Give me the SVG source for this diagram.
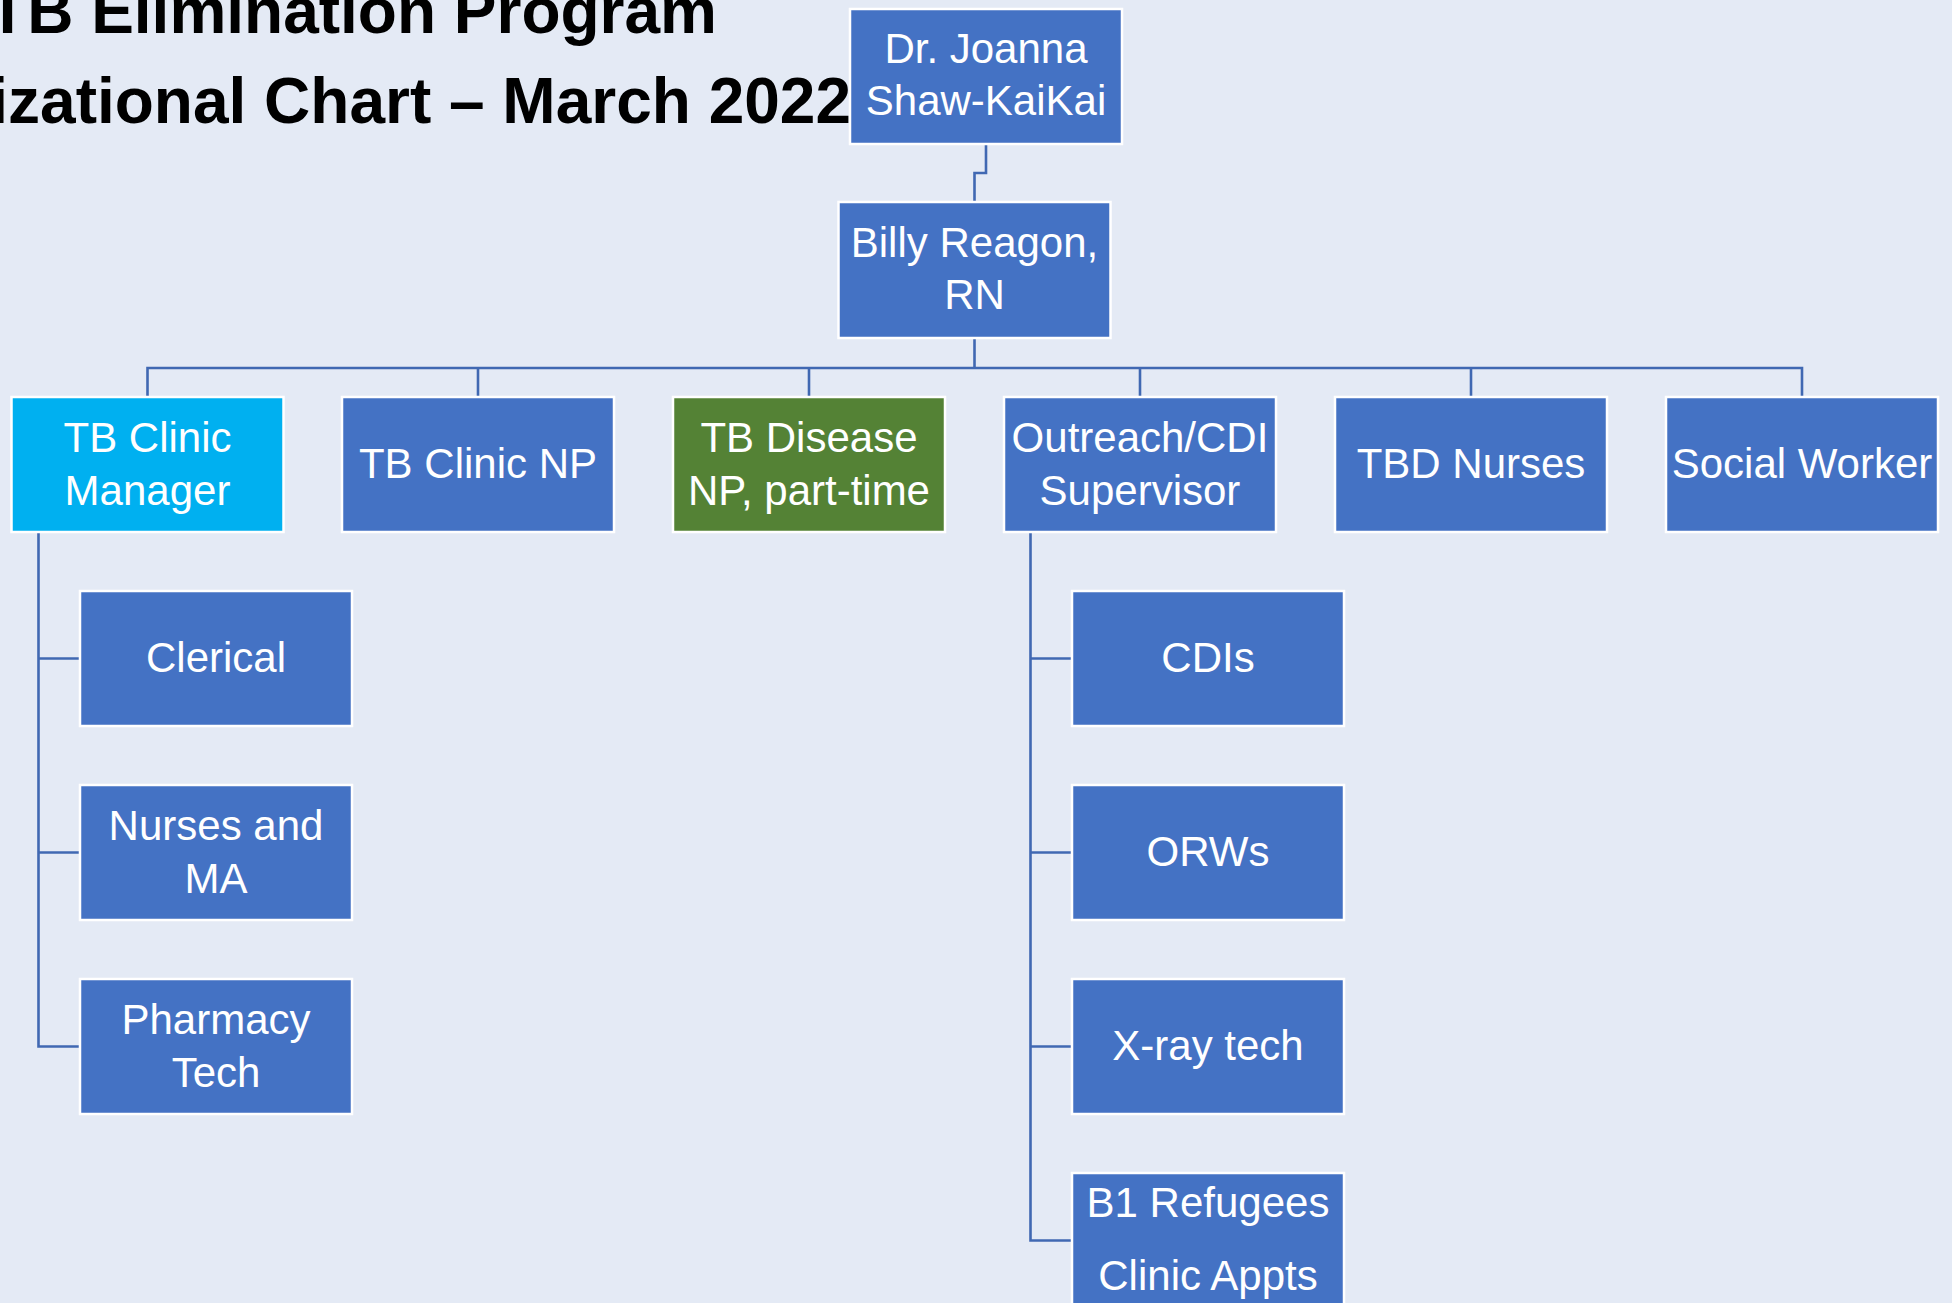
<svg xmlns="http://www.w3.org/2000/svg" width="1952" height="1303" viewBox="0 0 1952 1303">
<style>
.bg{fill:#E4EAF5}
.box{fill:#4472C4;stroke:#FFFFFF;stroke-width:2.5}
.cyan{fill:#00B0F0}
.green{fill:#548235}
.lbl{font-family:"Liberation Sans",Arial,sans-serif;font-size:42px;fill:#FFFFFF;text-anchor:middle}
.title{font-family:"Liberation Sans",Arial,sans-serif;font-weight:bold;font-size:64px;fill:#000000;text-anchor:end}
.conn{fill:none;stroke:#4068B2;stroke-width:2.6}
</style>
<rect class="bg" x="0" y="0" width="1952" height="1303"/>
<g id="title">
<text class="title" x="717" y="33">TB Elimination Program</text>
<text class="title" x="851" y="123">Organizational Chart – March 2022</text>
</g>
<g id="connectors">
<path class="conn" d="M986 144 V173 H974.5 V202"/>
<path class="conn" d="M974.5 338 V368"/>
<path class="conn" d="M147.5 397 V368 H1802 V397"/>
<path class="conn" d="M478 368 V397"/>
<path class="conn" d="M809 368 V397"/>
<path class="conn" d="M1140 368 V397"/>
<path class="conn" d="M1471 368 V397"/>
<path class="conn" d="M38.5 532 V1046.5 H80"/>
<path class="conn" d="M38.5 658.5 H80"/>
<path class="conn" d="M38.5 852.5 H80"/>
<path class="conn" d="M1030.5 532 V1240.5 H1072"/>
<path class="conn" d="M1030.5 658.5 H1072"/>
<path class="conn" d="M1030.5 852.5 H1072"/>
<path class="conn" d="M1030.5 1046.5 H1072"/>
</g>
<g id="node-joanna">
<rect class="box" x="850" y="9" width="272" height="135"/>
<text class="lbl" x="986" y="63">Dr. Joanna</text>
<text class="lbl" x="986" y="115">Shaw-KaiKai</text>
</g>
<g id="node-billy">
<rect class="box" x="838.5" y="202" width="272" height="136"/>
<text class="lbl" x="974.5" y="256.5">Billy Reagon,</text>
<text class="lbl" x="974.5" y="309">RN</text>
</g>
<g id="node-clinic-manager">
<rect class="box cyan" x="11.5" y="397" width="272" height="135"/>
<text class="lbl" x="147.5" y="451.5">TB Clinic</text>
<text class="lbl" x="147.5" y="504.5">Manager</text>
</g>
<g id="node-clinic-np">
<rect class="box" x="342" y="397" width="272" height="135"/>
<text class="lbl" x="478" y="477.5">TB Clinic NP</text>
</g>
<g id="node-disease-np">
<rect class="box green" x="673" y="397" width="272" height="135"/>
<text class="lbl" x="809" y="451.5">TB Disease</text>
<text class="lbl" x="809" y="504.5">NP, part-time</text>
</g>
<g id="node-outreach">
<rect class="box" x="1004" y="397" width="272" height="135"/>
<text class="lbl" x="1140" y="451.5">Outreach/CDI</text>
<text class="lbl" x="1140" y="504.5">Supervisor</text>
</g>
<g id="node-tbd-nurses">
<rect class="box" x="1335" y="397" width="272" height="135"/>
<text class="lbl" x="1471" y="477.5">TBD Nurses</text>
</g>
<g id="node-social-worker">
<rect class="box" x="1666" y="397" width="272" height="135"/>
<text class="lbl" x="1802" y="477.5">Social Worker</text>
</g>
<g id="node-clerical">
<rect class="box" x="80" y="591" width="272" height="135"/>
<text class="lbl" x="216" y="671.5">Clerical</text>
</g>
<g id="node-nurses-ma">
<rect class="box" x="80" y="785" width="272" height="135"/>
<text class="lbl" x="216" y="839.5">Nurses and</text>
<text class="lbl" x="216" y="892.5">MA</text>
</g>
<g id="node-pharmacy">
<rect class="box" x="80" y="979" width="272" height="135"/>
<text class="lbl" x="216" y="1033.5">Pharmacy</text>
<text class="lbl" x="216" y="1086.5">Tech</text>
</g>
<g id="node-cdis">
<rect class="box" x="1072" y="591" width="272" height="135"/>
<text class="lbl" x="1208" y="671.5">CDIs</text>
</g>
<g id="node-orws">
<rect class="box" x="1072" y="785" width="272" height="135"/>
<text class="lbl" x="1208" y="865.5">ORWs</text>
</g>
<g id="node-xray">
<rect class="box" x="1072" y="979" width="272" height="135"/>
<text class="lbl" x="1208" y="1059.5">X-ray tech</text>
</g>
<g id="node-b1">
<rect class="box" x="1072" y="1173" width="272" height="135"/>
<text class="lbl" x="1208" y="1216.5">B1 Refugees</text>
<text class="lbl" x="1208" y="1290">Clinic Appts</text>
</g>
</svg>
